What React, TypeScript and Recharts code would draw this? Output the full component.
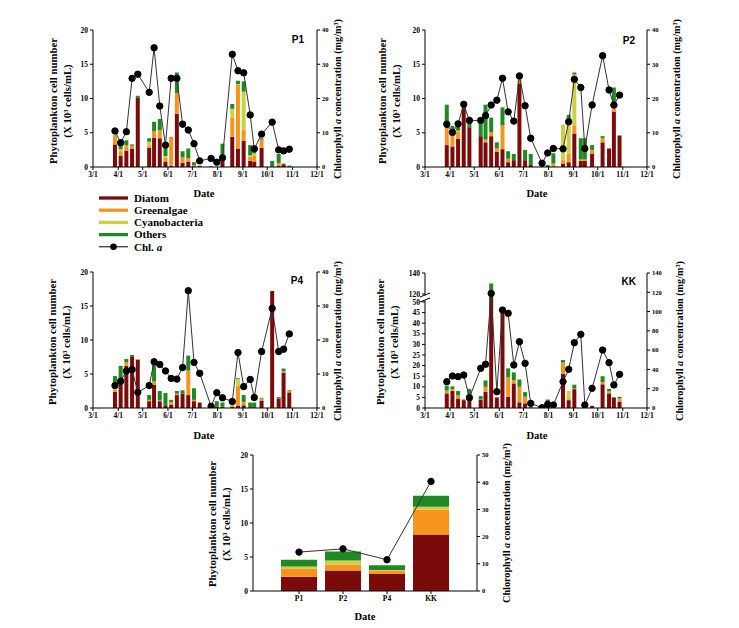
import React from "react";
import { Bar, ComposedChart, Line, ReferenceDot, XAxis, YAxis } from "recharts";

const SERIF = '"Liberation Serif", "Times New Roman", serif';
const SANS = '"Liberation Sans", Arial, sans-serif';

const COLORS = {
  diatom: "#7b0b0b",
  green: "#f7941d",
  cyano: "#cfcf45",
  others: "#1f8a24",
};

// x axis: day of year, 3/1 .. 12/1
const monthTicks = [60, 91, 121, 152, 182, 213, 244, 274, 305, 335];
const monthLabels = ["3/1", "4/1", "5/1", "6/1", "7/1", "8/1", "9/1", "10/1", "11/1", "12/1"];

// sampling days (day of year), same for every station
const sampleDays = [87, 94, 101, 108, 115, 129, 135, 142, 149, 156, 163, 170, 177, 184, 191, 205, 212, 219, 231, 238, 245, 253, 258, 267, 280, 288, 294, 301];

// P1
const p1Diatom = [3.3, 1.6, 2.4, 2.7, 10.1, 2.8, 4.3, 4.2, 0.8, 0.2, 7.8, 0.6, 0.8, 0.1, 0, 0, 0, 1.0, 4.4, 2.7, 3.8, 0.9, 0.8, 2.8, 0.1, 0.2, 0.4, 0];
const p1Green = [1.2, 0.7, 0.8, 0.4, 0, 0.3, 0.9, 1.2, 0.6, 4.1, 3.0, 0.8, 0.5, 0.2, 0, 0, 0, 0, 2.8, 9.3, 1.7, 0.6, 0.8, 1.2, 0, 0.4, 0, 0];
const p1Cyano = [0, 0.3, 0, 0, 0, 0.6, 0, 0, 0.2, 0, 0, 0, 0, 0, 0, 0, 0, 0, 1.3, 0.1, 5.5, 0.2, 0.4, 0, 0, 0, 0, 0];
const p1Others = [0.1, 1.0, 0.7, 0.2, 0.3, 0.5, 1.4, 1.6, 1.6, 0.1, 3.0, 0.9, 1.4, 0.4, 0.2, 0.1, 0, 2.4, 0.7, 0.5, 1.5, 1.5, 1.0, 0.2, 0.8, 1.3, 0.1, 0.2];
const p1Chl = [10.5, 7.1, 10.3, 25.9, 27.1, 21.8, 34.8, 17.8, 6.4, 25.9, 25.9, 12.5, 10.8, 6.8, 1.8, 2.5, 1.4, 2.7, 32.9, 28.1, 27.5, 15.2, 5.3, 9.6, 13.1, 5.0, 4.7, 5.2];

// P2
const p2Diatom = [3.2, 3.0, 4.1, 8.6, 5.8, 4.5, 3.6, 4.5, 2.2, 2.6, 0.7, 1.0, 12.2, 1.0, 0.3, 0, 0, 0.1, 0.5, 0.7, 4.9, 0.9, 0.9, 1.9, 3.6, 2.7, 8.1, 4.6];
const p2Green = [2.5, 1.6, 1.0, 0, 0, 0, 0.4, 0.6, 0.5, 3.5, 0.5, 0, 0.8, 0, 0, 0, 0, 0.4, 0.5, 1.2, 1.2, 0.2, 0.2, 0.6, 0.6, 0, 0.7, 0];
const p2Cyano = [0, 0.4, 0.2, 0, 0, 0, 0, 0, 0, 0, 0, 0, 0, 0, 0, 0, 0, 0, 5.2, 5.0, 7.4, 0, 0, 0, 0, 0, 0, 0];
const p2Others = [3.4, 1.0, 1.0, 0.3, 0.8, 2.0, 5.1, 2.1, 0.9, 2.6, 1.1, 0.9, 0.3, 1.5, 1.6, 0.1, 0.3, 1.5, 0, 0.7, 0.3, 3.1, 3.1, 0.7, 0.3, 0, 2.8, 0];
const p2Chl = [12.5, 10.1, 12.6, 18.3, 13.6, 13.6, 15.0, 18.1, 19.5, 25.9, 16.1, 13.4, 26.6, 17.9, 8.4, 1.1, 4.1, 5.4, 5.3, 13.2, 25.6, 23.2, 5.4, 18.1, 32.5, 22.5, 18.1, 21.0];

// P4
const p4Diatom = [2.4, 4.2, 6.2, 7.6, 7.1, 1.0, 3.4, 1.0, 0.4, 0.5, 1.9, 2.1, 1.9, 1.0, 0.8, 0.1, 0.2, 0.2, 0.2, 0.3, 0.4, 0.1, 0.1, 1.1, 17.2, 1.4, 5.2, 2.3];
const p4Green = [0.3, 0.2, 0.5, 0, 0.1, 0.2, 0.5, 0.1, 0, 0.4, 0.2, 0, 3.6, 0.2, 0, 0, 0, 0, 0.2, 3.0, 0.5, 0, 0, 0.3, 0, 0, 0.2, 0.2];
const p4Cyano = [0.1, 0, 0, 0, 0, 0, 0, 0, 0, 0, 0, 0, 0, 0, 0, 0, 0, 0, 0, 1.0, 0, 0, 0, 0, 0, 0, 0, 0];
const p4Others = [1.9, 1.8, 0.5, 0.2, 0, 0.7, 2.7, 1.4, 1.8, 0.3, 0.4, 0.5, 2.2, 1.7, 0, 0.2, 0.8, 0.6, 0, 0.1, 1.0, 0.7, 0.7, 0.1, 0, 0.2, 0.4, 0.1];
const p4Chl = [6.6, 7.9, 10.9, 11.3, 4.6, 6.6, 13.6, 12.8, 10.9, 8.7, 8.5, 11.9, 34.5, 13.4, 10.2, 0.5, 4.5, 3.0, 1.9, 16.3, 6.3, 8.4, 3.1, 16.6, 29.3, 16.6, 17.3, 21.8];

// KK
const kkDiatom = [6.9, 8.0, 4.5, 3.7, 4.5, 3.8, 7.7, 121, 5.0, 46, 5.3, 11.6, 2.7, 2.2, 0.3, 0, 1.5, 0.3, 16.2, 3.7, 8.9, 0, 0, 1.0, 11.2, 6.9, 5.0, 3.0];
const kkGreen = [1.3, 0.9, 1.5, 0, 0.5, 0.2, 2.3, 2.5, 0, 0, 9.1, 1.6, 7.3, 3.1, 0, 0, 0, 0, 5.2, 0.5, 0.3, 0, 0, 0, 1.0, 1.0, 0, 1.5];
const kkCyano = [0, 0, 0, 0, 0, 0, 0, 0, 0, 0, 0, 0, 0, 0, 0, 0, 0, 0, 0, 3.8, 0, 0, 0, 0, 0, 0, 0, 0];
const kkOthers = [2.3, 1.3, 2.0, 0.3, 4.0, 1.6, 3.0, 6.5, 0, 0, 4.3, 3.6, 3.5, 2.2, 0, 0, 2.5, 0.2, 1.2, 0, 1.8, 0, 0, 0, 2.8, 1.1, 0, 0.8];
const kkChl = [27.3, 33.2, 32.5, 34.2, 10.7, 41.1, 45.3, 118.9, 16.9, 101.6, 98.2, 44.6, 68.8, 46.3, 4.8, 0.3, 3.8, 3.1, 27.3, 40.1, 67.7, 76.4, 3.1, 20.4, 60.1, 47.0, 23.9, 34.9];

// station means
const sites = ["P1", "P2", "P4", "KK"];
const avgDiatom = [2.1, 3.0, 2.5, 8.3];
const avgGreen = [1.2, 0.9, 0.5, 3.7];
const avgCyano = [0.3, 0.6, 0.1, 0.4];
const avgOthers = [1.0, 1.3, 0.7, 1.6];
const avgChl = [14.3, 15.5, 11.5, 40.3];

const buildRows = (d: number[], g: number[], c: number[], o: number[], chl: number[]) =>
  sampleDays.map((day, i) => ({ day, diatom: d[i], green: g[i], cyano: c[i], others: o[i], chl: chl[i] }));

// broken left axis for KK: 0-50 normal, 120-140 compressed
const BREAK_GAP = 3.77;
const UPPER = 0.495;
const kkT = (v: number) =>
  v <= 50 ? v : v < 120 ? 50 + ((v - 50) / 70) * BREAK_GAP : 50 + BREAK_GAP + (v - 120) * UPPER;
const kkFmt = (v: number) => (v <= 50.01 ? String(Math.round(v)) : String(Math.round(120 + (v - 50 - BREAK_GAP) / UPPER)));

const kkRows = sampleDays.map((day, i) => {
  const c1 = kkDiatom[i];
  const c2 = c1 + kkGreen[i];
  const c3 = c2 + kkCyano[i];
  const c4 = c3 + kkOthers[i];
  return {
    day,
    diatom: kkT(c1),
    green: kkT(c2) - kkT(c1),
    cyano: kkT(c3) - kkT(c2),
    others: kkT(c4) - kkT(c3),
    chl: kkChl[i],
  };
});

const avgRows = sites.map((site, i) => ({
  site,
  diatom: avgDiatom[i],
  green: avgGreen[i],
  cyano: avgCyano[i],
  others: avgOthers[i],
  chl: avgChl[i],
}));

const tickStyle = { fontSize: 7.5, fontFamily: SERIF, fontWeight: 700, fill: "#000" };
const rTickStyle = { fontSize: 6.5, fontFamily: SERIF, fontWeight: 700, fill: "#000" };
const axisStroke = { stroke: "#000", strokeWidth: 1 };

const LEFT_W = 34;
const RIGHT_W = 26;
const TOP_M = 10;
const X_H = 16;

const StackBars = ({ size }: { size: number }) => (
  <>
    <Bar xAxisId="b" yAxisId="l" dataKey="diatom" stackId="s" fill={COLORS.diatom} barSize={size} isAnimationActive={false} />
    <Bar xAxisId="b" yAxisId="l" dataKey="green" stackId="s" fill={COLORS.green} barSize={size} isAnimationActive={false} />
    <Bar xAxisId="b" yAxisId="l" dataKey="cyano" stackId="s" fill={COLORS.cyano} barSize={size} isAnimationActive={false} />
    <Bar xAxisId="b" yAxisId="l" dataKey="others" stackId="s" fill={COLORS.others} barSize={size} isAnimationActive={false} />
  </>
);

const BreakMark = (p: any) => {
  const { cx, cy } = p;
  if (cx == null || cy == null) return <g />;
  return (
    <g>
      <rect x={cx - 5} y={cy - 2.5} width={10} height={5} fill="#fff" />
      <line x1={cx - 5} y1={cy - 1} x2={cx + 5} y2={cy - 5} stroke="#000" strokeWidth={1} />
      <line x1={cx - 5} y1={cy + 4} x2={cx + 5} y2={cy} stroke="#000" strokeWidth={1} />
    </g>
  );
};

type PanelProps = {
  rows: any[];
  px: number;
  py: number;
  w: number;
  h: number;
  leftDomain: number[];
  leftTicks: number[];
  leftFmt?: (v: number) => string;
  rightDomain: number[];
  rightTicks: number[];
  broken?: boolean;
};

const Panel = ({ rows, px, py, w, h, leftDomain, leftTicks, leftFmt, rightDomain, rightTicks, broken }: PanelProps) => (
  <div style={{ position: "absolute", left: px - LEFT_W, top: py - TOP_M }}>
    <ComposedChart
      width={w + LEFT_W + RIGHT_W}
      height={h + TOP_M + X_H}
      data={rows}
      margin={{ top: TOP_M, right: 0, bottom: 0, left: 0 }}
    >
      <XAxis
        xAxisId="b"
        type="number"
        dataKey="day"
        domain={[60, 335]}
        ticks={monthTicks}
        interval={0}
        tickFormatter={(v: number) => monthLabels[monthTicks.indexOf(v)]}
        tick={tickStyle}
        tickSize={3}
        height={X_H}
        axisLine={axisStroke}
        tickLine={axisStroke}
      />
      <XAxis xAxisId="t" orientation="top" type="number" dataKey="day" domain={[60, 335]} tick={false} tickLine={false} height={0} axisLine={axisStroke} />
      <YAxis
        yAxisId="l"
        type="number"
        domain={leftDomain}
        ticks={leftTicks}
        interval={0}
        allowDataOverflow
        tickFormatter={leftFmt}
        width={LEFT_W}
        tick={tickStyle}
        tickSize={3}
        axisLine={axisStroke}
        tickLine={axisStroke}
      />
      <YAxis
        yAxisId="r"
        orientation="right"
        type="number"
        domain={rightDomain}
        ticks={rightTicks}
        interval={0}
        allowDataOverflow
        width={RIGHT_W}
        tick={rTickStyle}
        tickSize={3}
        axisLine={axisStroke}
        tickLine={axisStroke}
      />
      {StackBars({ size: 4 })}
      <Line
        xAxisId="b"
        yAxisId="r"
        type="linear"
        dataKey="chl"
        stroke="#333"
        strokeWidth={1}
        dot={{ r: 3.2, fill: "#000", stroke: "#000", strokeWidth: 1 }}
        connectNulls
        isAnimationActive={false}
      />
      {broken ? (
        <ReferenceDot xAxisId="b" yAxisId="l" x={60} y={kkT(85)} r={0} ifOverflow="visible" shape={BreakMark} />
      ) : null}
    </ComposedChart>
  </div>
);

const MeanPanel = ({ px, py, w, h }: { px: number; py: number; w: number; h: number }) => (
  <div style={{ position: "absolute", left: px - LEFT_W, top: py - TOP_M }}>
    <ComposedChart
      width={w + LEFT_W + RIGHT_W}
      height={h + TOP_M + X_H}
      data={avgRows}
      margin={{ top: TOP_M, right: 0, bottom: 0, left: 0 }}
    >
      <XAxis
        xAxisId="b"
        dataKey="site"
        padding={{ left: 24, right: 24 }}
        interval={0}
        tick={tickStyle}
        tickSize={3}
        height={X_H}
        axisLine={axisStroke}
        tickLine={axisStroke}
      />
      <XAxis xAxisId="t" orientation="top" dataKey="site" tick={false} tickLine={false} height={0} axisLine={axisStroke} />
      <YAxis yAxisId="l" type="number" domain={[0, 20]} ticks={[0, 5, 10, 15, 20]} interval={0} width={LEFT_W} tick={tickStyle} tickSize={3} axisLine={axisStroke} tickLine={axisStroke} />
      <YAxis yAxisId="r" orientation="right" type="number" domain={[0, 50]} ticks={[0, 10, 20, 30, 40, 50]} interval={0} width={RIGHT_W} tick={rTickStyle} tickSize={3} axisLine={axisStroke} tickLine={axisStroke} />
      {StackBars({ size: 36 })}
      <Line
        xAxisId="b"
        yAxisId="r"
        type="linear"
        dataKey="chl"
        stroke="#333"
        strokeWidth={1}
        dot={{ r: 3.2, fill: "#000", stroke: "#000", strokeWidth: 1 }}
        isAnimationActive={false}
      />
    </ComposedChart>
  </div>
);

const VText = ({ x, y, size, children }: { x: number; y: number; size: number; children: React.ReactNode }) => (
  <div
    style={{
      position: "absolute",
      left: x,
      top: y,
      transform: "translate(-50%, -50%) rotate(-90deg)",
      whiteSpace: "nowrap",
      fontFamily: SERIF,
      fontWeight: 700,
      fontSize: size,
      lineHeight: 1,
      color: "#000",
    }}
  >
    {children}
  </div>
);

const LeftLabel = ({ x, y }: { x: number; y: number }) => (
  <>
    <VText x={x} y={y} size={10.8}>Phytoplankton cell number</VText>
    <VText x={x + 14} y={y} size={10.8}>(X 10³ cells/mL)</VText>
  </>
);

const RightLabel = ({ x, y }: { x: number; y: number }) => (
  <VText x={x} y={y} size={10.2}>
    Chlorophyll <i>a</i> concentration (mg/m³)
  </VText>
);

const DateLabel = ({ x, y }: { x: number; y: number }) => (
  <div
    style={{
      position: "absolute",
      left: x,
      top: y,
      transform: "translate(-50%, -50%)",
      fontFamily: SERIF,
      fontWeight: 700,
      fontSize: 10.5,
      lineHeight: 1,
    }}
  >
    Date
  </div>
);

const Title = ({ x, y, text }: { x: number; y: number; text: string }) => (
  <div
    style={{
      position: "absolute",
      left: x - 40,
      width: 40,
      top: y,
      textAlign: "right",
      fontFamily: SANS,
      fontWeight: 700,
      fontSize: 10,
      lineHeight: "10px",
    }}
  >
    {text}
  </div>
);

const legendItems = [
  { label: "Diatom", color: COLORS.diatom },
  { label: "Greenalgae", color: COLORS.green },
  { label: "Cyanobacteria", color: COLORS.cyano },
  { label: "Others", color: COLORS.others },
];

const LEG_Y0 = 10;
const LEG_STEP = 12.2;

const LegendBox = () => (
  <svg style={{ position: "absolute", left: 95, top: 188 }} width={130} height={68}>
    {legendItems.map((it, i) => (
      <g key={it.label}>
        <line x1={4} x2={33} y1={LEG_Y0 + i * LEG_STEP} y2={LEG_Y0 + i * LEG_STEP} stroke={it.color} strokeWidth={3.3} />
        <text x={39} y={LEG_Y0 + i * LEG_STEP} dy="0.35em" fontFamily={SERIF} fontWeight={700} fontSize={11}>
          {it.label}
        </text>
      </g>
    ))}
    <line x1={4} x2={33} y1={LEG_Y0 + 4 * LEG_STEP} y2={LEG_Y0 + 4 * LEG_STEP} stroke="#000" strokeWidth={1} />
    <circle cx={18.5} cy={LEG_Y0 + 4 * LEG_STEP} r={3.3} fill="#000" />
    <text x={39} y={LEG_Y0 + 4 * LEG_STEP} dy="0.35em" fontFamily={SERIF} fontWeight={700} fontSize={11}>
      Chl. <tspan fontStyle="italic">a</tspan>
    </text>
  </svg>
);

const p1Rows = buildRows(p1Diatom, p1Green, p1Cyano, p1Others, p1Chl);
const p2Rows = buildRows(p2Diatom, p2Green, p2Cyano, p2Others, p2Chl);
const p4Rows = buildRows(p4Diatom, p4Green, p4Cyano, p4Others, p4Chl);

const kkLeftTicks = [0, 5, 10, 15, 20, 25, 30, 35, 40, 45, 50, kkT(120), kkT(140)];

export default function App() {
  return (
    <div style={{ position: "absolute", left: 0, top: 0, width: 739, height: 628, background: "#fff", overflow: "hidden" }}>
      <Panel rows={p1Rows} px={93} py={30} w={224} h={137} leftDomain={[0, 20]} leftTicks={[0, 5, 10, 15, 20]} rightDomain={[0, 40]} rightTicks={[0, 10, 20, 30, 40]} />
      <Panel rows={p2Rows} px={425} py={30} w={222} h={137} leftDomain={[0, 20]} leftTicks={[0, 5, 10, 15, 20]} rightDomain={[0, 40]} rightTicks={[0, 10, 20, 30, 40]} />
      <Panel rows={p4Rows} px={93} py={272} w={224} h={136} leftDomain={[0, 20]} leftTicks={[0, 5, 10, 15, 20]} rightDomain={[0, 40]} rightTicks={[0, 10, 20, 30, 40]} />
      <Panel
        rows={kkRows}
        px={425}
        py={273}
        w={222}
        h={135}
        leftDomain={[0, kkT(140)]}
        leftTicks={kkLeftTicks}
        leftFmt={kkFmt}
        rightDomain={[0, 140]}
        rightTicks={[0, 20, 40, 60, 80, 100, 120, 140]}
        broken
      />
      <MeanPanel px={253} py={455} w={224} h={136} />

      <Title x={304} y={35} text="P1" />
      <Title x={635} y={36} text="P2" />
      <Title x={303} y={276} text="P4" />
      <Title x={636} y={277} text="KK" />

      <LeftLabel x={53} y={101} />
      <LeftLabel x={382} y={101} />
      <LeftLabel x={52} y={342} />
      <LeftLabel x={380} y={342} />
      <LeftLabel x={212} y={524} />

      <RightLabel x={338} y={99} />
      <RightLabel x={677} y={99} />
      <RightLabel x={338} y={341} />
      <RightLabel x={680} y={341} />
      <RightLabel x={507} y={523} />

      <DateLabel x={204} y={194} />
      <DateLabel x={537} y={194} />
      <DateLabel x={204} y={436} />
      <DateLabel x={537} y={436} />
      <DateLabel x={365} y={617} />

      <LegendBox />
    </div>
  );
}
